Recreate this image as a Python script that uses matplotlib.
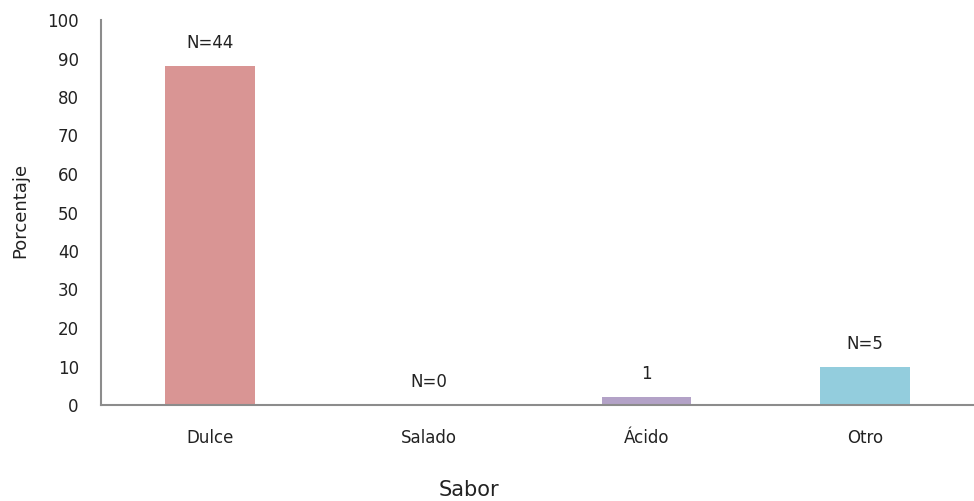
import matplotlib
matplotlib.use("Agg")
import matplotlib.pyplot as plt

# Datos del gráfico
sabores = ["Dulce", "Salado", "Ácido", "Otro"]
porcentajes = [88, 0, 2, 10]
etiquetas = ["N=44", "N=0", "1", "N=5"]
colores = ["#D99594", "#C0504D", "#B3A2C7", "#93CDDD"]

plt.rcParams["font.family"] = ["DejaVu Sans"]

fig = plt.figure(figsize=(9.74, 5.01), dpi=100)
ax = fig.add_axes([101 / 974, 96 / 501, 873 / 974, 385 / 501])

x = range(len(sabores))
barras = ax.bar(x, porcentajes, width=0.41, color=colores)

# Etiquetas encima de cada barra
for barra, texto in zip(barras, etiquetas):
    ax.annotate(texto, (barra.get_x() + barra.get_width() / 2, barra.get_height()),
                xytext=(0, 16.5), textcoords="offset points",
                ha="center", va="center", fontsize=12, color="#222222")

ax.set_xlim(-0.5, len(sabores) - 0.5)
ax.set_ylim(0, 100)
ax.set_yticks(range(0, 101, 10))
ax.set_xticks(list(x))
ax.set_xticklabels(sabores)
ax.tick_params(axis="both", length=0, labelsize=12, colors="#222222")
ax.tick_params(axis="y", pad=16)
ax.tick_params(axis="x", pad=17)

for lado in ["top", "right"]:
    ax.spines[lado].set_visible(False)
for lado in ["left", "bottom"]:
    ax.spines[lado].set_color("#8C8C8C")
    ax.spines[lado].set_linewidth(1.5)

ax.set_ylabel("Porcentaje", fontsize=13, color="#222222", va="center")
ax.yaxis.set_label_coords(-81 / 873, (405 - 210) / 385)
ax.set_xlabel("Sabor", fontsize=15, color="#222222", va="center")
ax.xaxis.set_label_coords((469 - 101) / 873, -85 / 385)

fig.savefig("out.png", dpi=100)
